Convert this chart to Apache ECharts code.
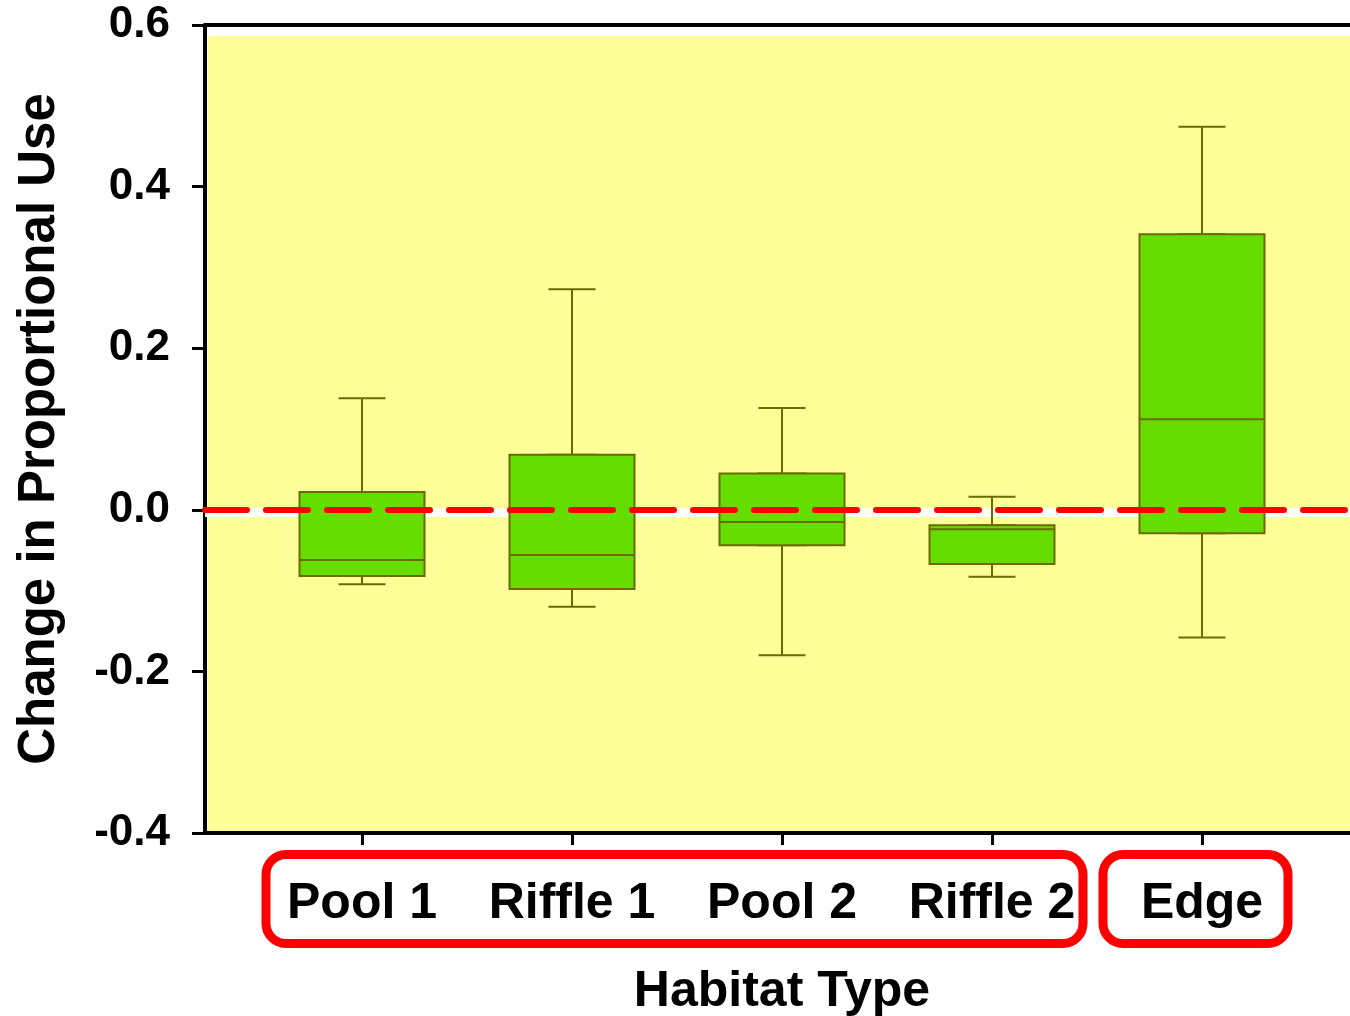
<!DOCTYPE html>
<html>
<head>
<meta charset="utf-8">
<script src="https://cdn.jsdelivr.net/npm/echarts@6/dist/echarts.min.js"></script>
<style>
html,body{margin:0;padding:0;background:#fff;}
#chart{width:1350px;height:1016px;}
</style>
</head>
<body>
<div id="chart"></div>
<script>
// ---- data ----
const categories = ['Pool 1', 'Riffle 1', 'Pool 2', 'Riffle 2', 'Edge'];
// [min, Q1, median, Q3, max]
const pool1   = [-0.092, -0.082, -0.062, 0.022, 0.138];
const riffle1 = [-0.120, -0.098, -0.056, 0.068, 0.273];
const pool2   = [-0.180, -0.044, -0.015, 0.045, 0.126];
const riffle2 = [-0.083, -0.067, -0.024, -0.019, 0.016];
const edge    = [-0.158, -0.029, 0.112, 0.341, 0.474];
const yMin = -0.4, yMax = 0.6, yInterval = 0.2;
const referenceValue = 0;
const xTitle = 'Habitat Type';
const yTitle = 'Change in Proportional Use';

const boxStats = [pool1, riffle1, pool2, riffle2, edge];
// wide box part: whiskers collapsed onto the box
const boxBodies = boxStats.map(s => [s[1], s[1], s[2], s[3], s[3]]);

const FONT = '"Liberation Sans", Arial, Helvetica, sans-serif';
const chart = echarts.init(document.getElementById('chart'), null, {renderer: 'canvas'});

const boxStyle = {color: '#66DD00', borderColor: '#6B6B00', borderWidth: 2};

chart.setOption({
  animation: false,
  backgroundColor: '#ffffff',
  grid: [
    {left: 205, right: 0, top: 25, bottom: 183, containLabel: false, outerBoundsMode: 'none'},
    {left: 257, right: 43, top: 25, bottom: 183, containLabel: false, outerBoundsMode: 'none'},
    {left: 208, right: 0, top: 36, bottom: 185, containLabel: false, outerBoundsMode: 'none',
     show: true, backgroundColor: '#FFFF99', borderWidth: 0, z: -1}
  ],
  xAxis: [
    {gridIndex: 0, type: 'value', min: 0, max: 1, position: 'bottom',
     axisLine: {show: true, onZero: false, lineStyle: {color: '#000', width: 4}},
     axisTick: {show: false}, axisLabel: {show: false}, splitLine: {show: false}},
    {gridIndex: 0, type: 'value', min: 0, max: 1, position: 'top',
     axisLine: {show: true, onZero: false, lineStyle: {color: '#000', width: 4}},
     axisTick: {show: false}, axisLabel: {show: false}, splitLine: {show: false}},
    {gridIndex: 1, type: 'category', data: categories, position: 'bottom',
     axisLine: {show: false, onZero: false},
     axisTick: {show: true, alignWithLabel: true, interval: 0, length: 12, lineStyle: {color: '#000', width: 3}},
     axisLabel: {interval: 0, hideOverlap: false, fontSize: 50, fontWeight: 'bold', color: '#000', fontFamily: FONT, margin: 46},
     splitLine: {show: false},
     name: xTitle, nameLocation: 'middle', nameGap: 134,
     nameTextStyle: {fontSize: 50, fontWeight: 'bold', color: '#000', fontFamily: FONT}},
    {gridIndex: 1, type: 'category', data: categories, show: false,
     axisLine: {onZero: false}},
    {gridIndex: 2, type: 'value', min: 0, max: 1, show: false}
  ],
  yAxis: [
    {gridIndex: 0, type: 'value', min: yMin, max: yMax, interval: yInterval,
     axisLine: {show: true, onZero: false, lineStyle: {color: '#000', width: 4}},
     axisTick: {show: true, length: 13, lineStyle: {color: '#000', width: 3}},
     axisLabel: {fontSize: 44, fontWeight: 'bold', color: '#000', fontFamily: FONT, margin: 35,
       formatter: v => (Math.abs(v) < 1e-9 ? 0 : v).toFixed(1)},
     splitLine: {show: false},
     name: yTitle, nameLocation: 'middle', nameGap: 140, nameRotate: 90,
     nameTextStyle: {fontSize: 51, fontWeight: 'bold', color: '#000', fontFamily: FONT}},
    {gridIndex: 1, type: 'value', min: yMin, max: yMax, interval: yInterval, show: false},
    {gridIndex: 2, type: 'value', min: yMin, max: yMax, show: false}
  ],
  series: [
    {type: 'line', xAxisIndex: 0, yAxisIndex: 0, data: [], z: 1, silent: true,
     markArea: {silent: true, itemStyle: {color: '#FFFFFF'},
       data: [[{yAxis: referenceValue + 0.002}, {yAxis: referenceValue - 0.009}]]}},
    {type: 'boxplot', name: 'whiskers', xAxisIndex: 2, yAxisIndex: 1, z: 3, silent: true,
     boxWidth: [47, 47], itemStyle: boxStyle, emphasis: {disabled: true}, data: boxStats},
    {type: 'boxplot', name: 'boxes', xAxisIndex: 3, yAxisIndex: 1, z: 4, silent: true,
     boxWidth: [125, 125], itemStyle: boxStyle, emphasis: {disabled: true}, data: boxBodies},
    {type: 'line', xAxisIndex: 0, yAxisIndex: 0, data: [], z: 10, silent: true,
     markLine: {silent: true, symbol: 'none', label: {show: false},
       lineStyle: {color: '#FF0000', width: 6, type: [42, 19], cap: 'round'},
       data: [{yAxis: referenceValue}]}}
  ]
});

// red rounded frames around the category label groups
const px = i => chart.convertToPixel({xAxisIndex: 2}, categories[i]);
const frameTop = 854.5, frameH = 89;
chart.setOption({
  graphic: [
    {type: 'rect', z: 50, shape: {x: px(0) - 96, y: frameTop, width: (px(3) + 91) - (px(0) - 96), height: frameH, r: 20},
     style: {fill: null, stroke: '#FF0000', lineWidth: 9}},
    {type: 'rect', z: 50, shape: {x: px(4) - 99, y: frameTop, width: 185, height: frameH, r: 20},
     style: {fill: null, stroke: '#FF0000', lineWidth: 9}}
  ]
});
</script>
</body>
</html>
